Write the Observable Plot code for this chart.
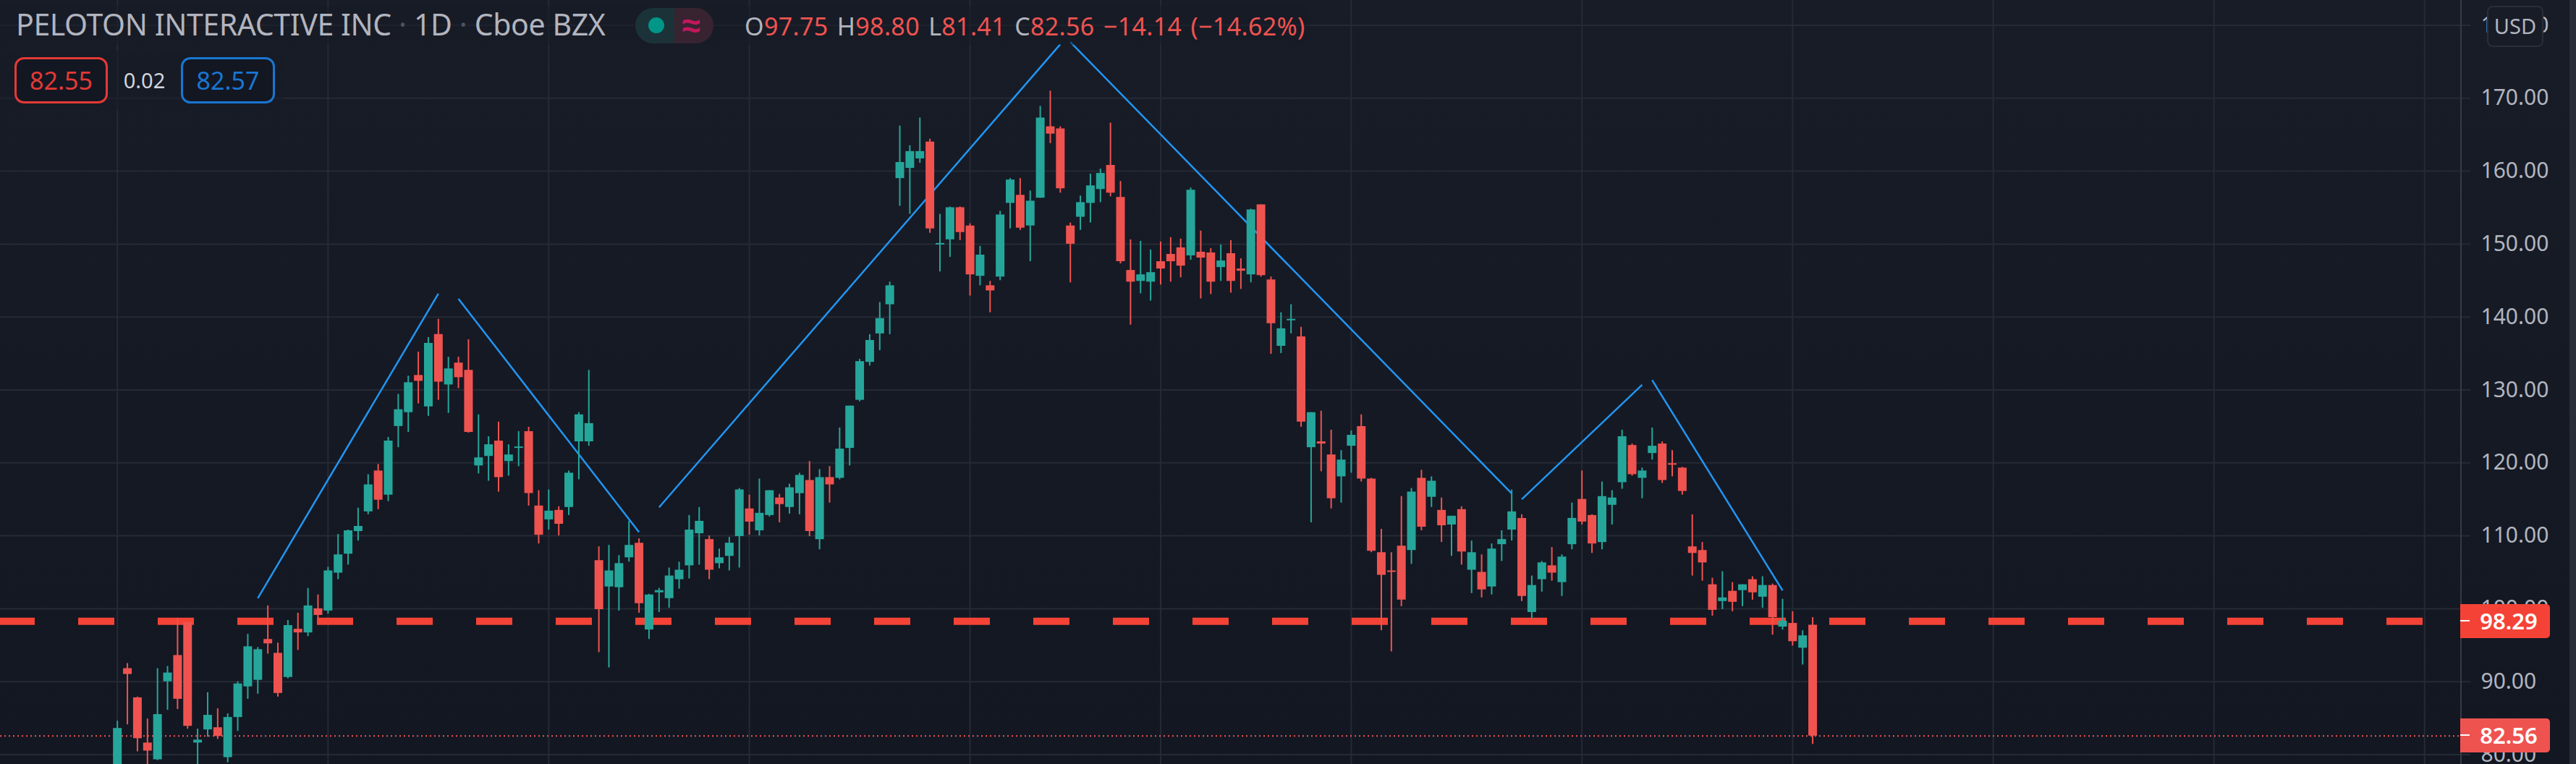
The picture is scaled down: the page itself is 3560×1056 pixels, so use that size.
<!DOCTYPE html>
<html><head><meta charset="utf-8">
<script src="https://cdn.jsdelivr.net/npm/d3@7"></script>
<script src="https://cdn.jsdelivr.net/npm/@observablehq/plot@0.6"></script>
<style>
html,body{margin:0;padding:0;width:3560px;height:1056px;overflow:hidden;background:linear-gradient(#181c27,#131722);}
#wrap{position:relative;width:3560px;height:1056px;font-family:"Noto Sans",sans-serif;}
#wrap svg{display:block;position:absolute;left:0;top:0;background:transparent;}
.ov{position:absolute;white-space:nowrap;}
.box{box-sizing:border-box;height:64px;top:79px;border:3px solid;border-radius:13px;background:#131722;font-size:34px;line-height:58px;text-align:center;}
.tag{left:3400px;width:124px;height:47px;border-radius:0 5px 5px 0;color:#fff;font-size:31px;font-weight:600;line-height:47px;text-align:center;padding-left:10px;box-sizing:border-box;}
.tick{position:absolute;left:0;top:22px;width:13px;height:2px;background:#fff;}
</style></head><body><div id="wrap"></div>
<script>
const opens=[76.0,91.8,87.8,81.6,79.3,90.0,93.6,98.1,81.6,83.4,
83.7,79.6,85.1,89.3,90.2,95.8,93.9,90.6,97.2,96.7,
100.0,99.7,104.9,107.5,110.6,113.3,118.9,115.6,125.0,126.9,
132.0,127.7,137.6,130.7,133.7,132.7,119.6,120.9,123.0,120.2,
122.0,124.3,114.1,112.2,113.5,113.9,122.9,122.9,106.6,103.0,
102.9,107.0,109.0,97.1,102.2,101.4,104.0,105.9,110.3,109.5,
106.2,107.2,109.9,113.7,110.7,112.8,115.2,113.9,115.8,117.6,
109.5,118.0,117.9,122.0,128.6,133.8,137.7,141.7,159.0,160.4,
161.7,164.0,149.9,150.6,155.0,152.5,145.6,144.3,145.5,155.6,
156.7,152.5,156.3,166.1,165.8,152.5,153.7,155.6,157.5,160.8,
156.4,146.4,144.9,144.8,147.6,148.6,149.5,148.4,148.9,148.8,
146.8,148.7,146.6,145.8,155.4,145.1,136.0,139.5,137.3,122.1,
122.9,121.1,118.1,122.3,125.0,117.8,107.7,105.2,108.6,108.0,
117.9,115.3,113.5,111.5,113.6,105.3,105.0,103.0,108.8,110.8,
112.4,99.5,104.0,105.9,103.6,108.8,115.0,112.8,109.1,114.2,
117.3,122.4,117.9,121.3,122.6,119.9,119.3,108.5,108.0,103.3,
101.0,102.4,102.5,104.0,101.6,103.2,97.5,98.0,94.6,97.75];
const highs=[84.6,92.5,87.9,84.9,91.8,92.1,98.7,98.1,83.5,88.5,
86.3,85.6,90.0,96.5,94.7,100.4,95.3,98.4,99.4,102.8,
101.9,105.7,110.2,110.8,113.8,118.4,119.8,123.5,129.4,131.9,
135.2,137.2,139.7,134.5,134.5,136.9,126.6,123.6,125.6,122.5,
124.3,124.9,116.2,116.3,114.0,118.9,126.9,132.7,108.5,108.7,
107.3,112.0,109.6,102.0,102.8,105.6,106.4,112.8,113.9,110.0,
108.2,109.8,116.5,115.6,117.8,116.2,115.7,117.1,118.6,120.2,
119.1,119.5,124.8,127.8,134.2,137.6,142.0,144.8,166.2,163.5,
167.3,164.4,154.1,155.1,155.1,152.8,149.7,144.9,154.5,159.0,
159.0,157.3,168.9,171.0,166.1,152.9,156.6,159.6,160.3,166.6,
158.6,150.6,150.4,149.2,150.3,150.9,150.7,157.7,151.8,149.4,
149.9,150.5,148.0,154.8,155.4,145.5,140.6,141.7,138.6,126.9,
127.1,124.5,121.7,124.4,126.6,117.9,110.9,107.7,115.4,116.5,
119.0,118.1,115.2,112.7,114.0,109.3,107.4,108.9,110.7,116.3,
112.9,104.5,106.5,108.4,107.4,114.5,118.9,112.9,117.4,116.2,
124.5,122.6,119.3,124.8,122.9,121.7,119.4,112.9,109.1,104.2,
105.1,103.6,103.3,104.4,104.4,103.4,101.3,99.6,97.0,98.80];
const lows=[75.0,84.1,80.4,77.0,79.2,86.1,86.2,83.5,77.0,82.4,
82.1,78.9,83.2,87.6,88.3,93.8,87.9,90.4,94.3,96.2,
98.7,99.3,104.0,106.0,109.3,112.9,113.6,114.7,122.1,124.2,
128.1,126.4,128.6,126.8,130.2,124.1,118.5,117.5,116.0,118.2,
119.5,114.1,108.9,110.8,110.0,112.8,117.7,122.3,94.0,91.9,
99.7,106.4,99.4,95.8,99.5,100.1,102.7,104.1,106.0,104.0,
105.5,105.2,105.6,110.1,110.0,112.6,111.8,113.0,112.9,109.9,
108.1,114.5,117.7,119.6,128.4,133.3,135.4,137.6,155.2,154.1,
161.1,151.5,146.2,148.2,150.5,142.9,144.3,140.6,145.0,152.1,
151.9,147.6,156.3,163.8,157.0,144.7,151.9,152.9,155.7,156.5,
147.3,138.9,143.2,142.2,144.4,144.8,145.4,147.8,142.5,143.1,
144.9,143.3,143.8,144.7,145.5,134.9,135.0,137.7,124.9,111.8,
118.8,113.7,114.5,118.6,117.4,107.7,97.0,94.1,100.3,106.1,
110.7,113.9,109.1,107.2,106.0,102.1,101.5,101.9,106.5,109.3,
101.0,98.6,102.3,103.8,101.7,108.1,111.5,107.6,108.1,111.5,
116.4,118.2,115.1,120.4,117.2,118.1,115.6,104.5,103.8,99.0,
99.9,99.6,100.3,101.2,100.1,96.4,97.1,94.9,92.3,81.41];
const closes=[83.6,91.0,82.2,80.5,85.5,91.2,87.6,83.9,82.0,85.4,
82.5,85.1,89.7,94.8,94.4,95.2,88.4,97.7,96.7,100.4,
99.1,105.2,107.4,110.7,111.3,117.0,114.9,123.0,127.3,131.0,
131.2,136.4,131.1,132.9,131.7,124.2,120.7,122.5,118.0,121.1,
122.2,115.8,110.1,113.4,111.6,118.6,126.6,125.4,99.9,105.2,
106.2,108.7,100.7,101.9,102.5,104.5,105.3,110.8,112.0,105.3,
107.0,109.0,116.3,111.9,113.1,116.2,114.3,116.6,118.3,110.6,
118.0,117.0,121.9,127.8,133.9,136.8,139.8,144.3,161.2,162.7,
162.7,152.1,150.1,155.0,151.6,145.8,148.5,143.6,154.0,158.8,
152.2,155.9,167.3,165.1,157.6,150.0,155.7,158.0,159.7,157.0,
147.6,144.8,145.8,146.1,146.6,147.6,147.0,157.4,148.1,144.8,
147.7,144.9,146.3,154.7,145.7,139.1,138.4,139.7,125.6,126.9,
122.6,115.1,120.4,123.8,117.8,107.9,104.6,105.0,101.2,116.0,
111.2,117.5,111.4,112.7,107.8,107.7,102.6,108.2,109.5,113.3,
101.7,103.2,106.3,104.9,107.1,112.4,111.9,108.9,115.4,115.2,
123.6,118.4,118.9,122.3,117.6,119.7,116.1,107.6,106.3,99.8,
101.5,100.9,103.3,102.2,103.2,98.8,98.3,95.5,96.3,82.56];

const priceTicks=[80,90,100,110,120,130,140,150,160,170,180];
const gridIndex=[0,21,43,63,85,104,123,146,167,187,209,230];
const trendFromIndex=[14,34,54,95,140,153];
const trendFromPrice=[101.45,142.5,113.9,177.7,115.0,131.35];
const trendToIndex=[32,52,94,139,152,166];
const trendToPrice=[143.2,110.5,177.4,115.8,130.7,102.5];
const levelPrice=98.29, lastPrice=82.56;

const candles=opens.map((o,i)=>({i,o,h:highs[i],l:lows[i],c:closes[i]}));
const trends=trendFromIndex.map((a,k)=>({a,b:trendToIndex[k],p:trendFromPrice[k],q:trendToPrice[k]}));
const green="#26a69a", red="#ef5350", grid="#262a35";
const col=d=>d.c>=d.o?green:red;

const plot=Plot.plot({
  width:3560,height:1056,marginLeft:0,marginTop:0,marginBottom:0,marginRight:160,
  x:{domain:[-11.664,233.59],axis:null},
  y:{domain:[78.66,183.42],axis:null},
  style:{background:"transparent",overflow:"hidden"},
  marks:[
    Plot.ruleX(gridIndex,{stroke:grid,strokeWidth:2}),
    Plot.axisY(priceTicks,{anchor:"right",tickSize:13,tickPadding:15,stroke:grid,strokeWidth:2,strokeOpacity:1,
      fill:"#b2b5be",fontSize:30,fontFamily:'"Noto Sans",sans-serif',tickFormat:d=>d.toFixed(2),label:null}),
    Plot.ruleY(priceTicks,{stroke:grid,strokeWidth:2}),
    Plot.ruleY([lastPrice],{stroke:red,strokeWidth:2,strokeDasharray:"2 4"}),
    Plot.ruleY([levelPrice],{stroke:"#f44336",strokeWidth:10,strokeDasharray:"50 60",strokeDashoffset:2}),
    Plot.link(trends,{x1:"a",y1:"p",x2:"b",y2:"q",stroke:"#2196f3",strokeWidth:2.5}),
    Plot.ruleX(candles,{x:"i",y1:"l",y2:"h",stroke:col,strokeWidth:2}),
    Plot.ruleX(candles,{x:"i",y1:"o",y2:"c",stroke:col,strokeWidth:12})
  ]
});
const wrap=document.getElementById("wrap");
wrap.appendChild(plot);
const y=plot.scale("y").apply;
const val=s=>`<span style="color:#ef5350">${s}</span>`;
const overlay=`
<div class="ov" style="left:0;top:8px;width:1810px;height:54px;background:rgba(24,28,39,.55)"></div>
<div class="ov" style="left:0;top:70px;width:392px;height:82px;background:rgba(24,28,39,.55)"></div>
<div class="ov" style="left:3400px;top:0;width:2px;height:1056px;background:#363a45"></div>
<div class="ov" style="left:3551px;top:0;width:9px;height:1056px;background:#2a2e39"></div>
<div class="ov" style="left:22px;top:3px;font-size:41px;line-height:60px;color:#b2b5be;letter-spacing:-0.4px">PELOTON INTERACTIVE INC <span style="color:#50535e">·</span> 1D <span style="color:#50535e">·</span> Cboe BZX</div>
<div class="ov" style="left:878px;top:11px;width:54px;height:49px;border-radius:25px 0 0 25px;background:#1b3238"></div>
<div class="ov" style="left:932px;top:11px;width:54px;height:49px;border-radius:0 25px 25px 0;background:#382331"></div>
<div class="ov" style="left:896px;top:24px;width:22px;height:22px;border-radius:50%;background:#009688"></div>
<div class="ov" style="left:932px;top:5px;width:46px;text-align:center;font-size:46px;line-height:56px;color:#c2185b;font-weight:700">≈</div>
<div class="ov" style="left:1029px;top:10px;font-size:34px;line-height:52px;color:#b2b5be;word-spacing:3px;letter-spacing:.35px">O${val("97.75")} H${val("98.80")} L${val("81.41")} C${val("82.56")} ${val("−14.14 (−14.62%)")}</div>
<div class="ov box" style="left:20px;width:129px;color:#e53935;border-color:#e53935">82.55</div>
<div class="ov" style="left:149px;width:101px;top:79px;text-align:center;font-size:29px;line-height:64px;color:#d1d4dc">0.02</div>
<div class="ov box" style="left:250px;width:130px;color:#1976d2;border-color:#1976d2">82.57</div>
<div class="ov" style="left:3437px;top:8px;width:78px;height:57px;box-sizing:border-box;border:2px solid #2a2e39;border-radius:8px;background:#181c27;color:#b2b5be;font-size:29px;line-height:52px;text-align:center">USD</div>
<div class="ov tag" style="top:${y(levelPrice)-23.5}px;background:#f44336"><div class="tick"></div>98.29</div>
<div class="ov tag" style="top:${y(lastPrice)-23.5}px;background:#ef5350"><div class="tick"></div>82.56</div>`;
wrap.insertAdjacentHTML("beforeend",overlay);
</script></body></html>
